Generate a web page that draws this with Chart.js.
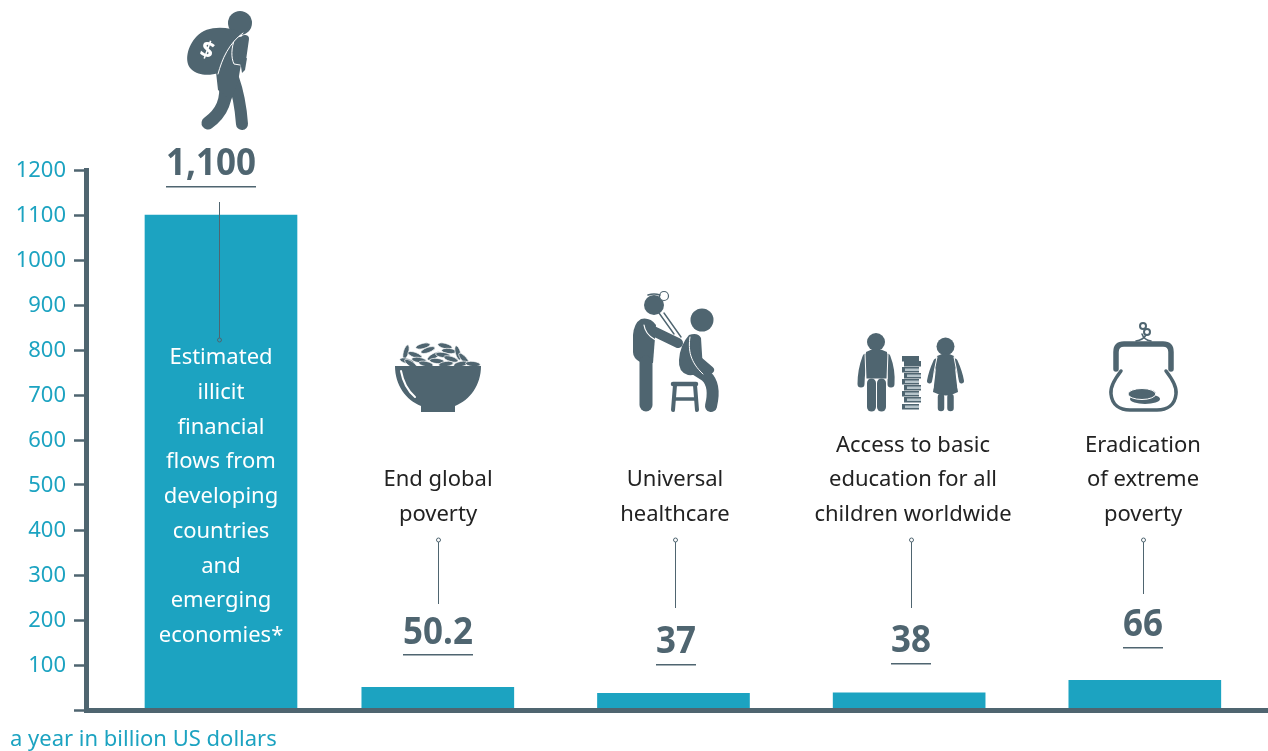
<!DOCTYPE html>
<html>
<head>
<meta charset="utf-8">
<title>Illicit financial flows</title>
<script src="https://cdn.jsdelivr.net/npm/chart.js@4"></script>
<style>
  html, body { margin: 0; padding: 0; background: #fff; }
  canvas { display: block; }
</style>
</head>
<body>
<canvas id="chart" width="1268" height="751"></canvas>
<script>
// billion US dollars a year
const values = [1100, 50.2, 37, 38, 66];
const valueLabels = ['1,100', '50.2', '37', '38', '66'];
const captions = [
    ['Estimated', 'illicit', 'financial', 'flows from', 'developing', 'countries', 'and', 'emerging', 'economies*'],
    ['End global', 'poverty'],
    ['Universal', 'healthcare'],
    ['Access to basic', 'education for all', 'children worldwide'],
    ['Eradication', 'of extreme', 'poverty']
];
const unitLabel = 'a year in billion US dollars';

// bars are not evenly spaced, so the x axis is linear in column units
const columns = [0, 0.92, 1.92, 2.92, 3.92];

const DARK = '#4f6570';
const TEAL = '#1ca3c1';
const BODY_FONT = '"Noto Sans", sans-serif';

// per-bar annotation layout: value text, underline, leader line, caption
const annotations = [
    { numX: 211, numY: 175, ruleY: 186, ruleW: 90, leadX: 219, leadTop: 202, leadEnd: 340, dotAtEnd: true, capX: 221, capLast: 642, capColor: '#fff' },
    { numX: 438, numY: 644, ruleY: 654, ruleW: 70, leadX: 438, leadTop: 540, leadEnd: 604, capX: 438, capLast: 521, capColor: '#222' },
    { numX: 676, numY: 653, ruleY: 664, ruleW: 40, leadX: 675, leadTop: 540, leadEnd: 608, capX: 675, capLast: 521, capColor: '#222' },
    { numX: 911, numY: 652, ruleY: 663, ruleW: 40, leadX: 911, leadTop: 540, leadEnd: 608, capX: 913, capLast: 521, capColor: '#222' },
    { numX: 1143, numY: 636, ruleY: 647, ruleW: 40, leadX: 1143, leadTop: 540, leadEnd: 594, capX: 1143, capLast: 521, capColor: '#222' }
];

function strokePath(ctx, d, width, color) {
    ctx.lineWidth = width;
    ctx.strokeStyle = color || DARK;
    ctx.lineCap = 'round';
    ctx.lineJoin = 'round';
    ctx.stroke(new Path2D(d));
}
function fillPath(ctx, d, color) {
    ctx.fillStyle = color || DARK;
    ctx.fill(new Path2D(d));
}
function disc(ctx, x, y, r, color) {
    ctx.fillStyle = color || DARK;
    ctx.beginPath();
    ctx.arc(x, y, r, 0, Math.PI * 2);
    ctx.fill();
}

function drawCarrier(ctx) {
    disc(ctx, 240, 23, 12);
    // legs and torso
    strokePath(ctx, 'M225 80 C228 100 222 113 208 123', 13);
    strokePath(ctx, 'M233 78 C239 95 241 110 242 124', 12);
    fillPath(ctx, 'M216 72 L232 38 L246 36 L240 70 L238 82 L231 100 L218 90 Z');
    // forearm with a pale outline and the hanging hand
    strokePath(ctx, 'M245 39 L242 60', 8);
    fillPath(ctx, 'M240 60 L247 58 L245 70 L242 73 Z');
    strokePath(ctx, 'M235 38 C231 48 231 58 234 64 L240 65', 1, '#fff');
    // sack
    fillPath(ctx, 'M243 33 C226 25 206 26 197 36 C187 46 184 62 191 69 C199 77 212 75 218 73 C221 60 228 44 243 33 Z');
    strokePath(ctx, 'M243 33 C229 43 222 59 218 74', 1, '#fff');
    ctx.save();
    ctx.translate(207, 51);
    ctx.rotate(0.35);
    ctx.fillStyle = '#fff';
    ctx.font = 'bold 23px ' + BODY_FONT;
    ctx.textAlign = 'center';
    ctx.textBaseline = 'middle';
    ctx.fillText('$', 0, 0);
    ctx.restore();
}

function drawBowl(ctx) {
    const grains = [[423, 346, -0.25], [445, 346, 0.25], [406, 352, -1.3], [428, 350, -0.35], [449, 351, 0.1],
        [458, 353, 1.3], [415, 355, 0.35], [434, 356, -0.5], [443, 355, 0.15], [464, 359, 0.85], [407, 361, 0.25],
        [419, 360, 0.15], [437, 361, 0.1], [451, 359, 0.3], [411, 364, 0.6], [426, 364, 0.2], [446, 364, -0.15],
        [461, 364, -0.2], [473, 364, 0.1]];
    grains.forEach(g => {
        ctx.fillStyle = DARK;
        ctx.beginPath();
        ctx.ellipse(g[0], g[1], 7.5, 2.6, g[2], 0, Math.PI * 2);
        ctx.fill();
        ctx.strokeStyle = '#fff';
        ctx.lineWidth = 0.7;
        ctx.stroke();
    });
    fillPath(ctx, 'M395 366 L481 366 C481 385 470 400 455 406 L455 412 L421 412 L421 406 C406 400 395 385 395 366 Z');
    strokePath(ctx, 'M401 371 C403 382 408 391 415 397', 2, '#fff');
}

function drawDoctor(ctx) {
    disc(ctx, 654, 305, 10);
    ctx.fillStyle = '#fff';
    ctx.strokeStyle = DARK;
    ctx.lineWidth = 1.2;
    ctx.beginPath();
    ctx.arc(664, 296, 4.5, 0, Math.PI * 2);
    ctx.fill();
    ctx.stroke();
    strokePath(ctx, 'M648 295 Q654 293 660 295', 1.5);
    // doctor: torso, leg, arm
    fillPath(ctx, 'M641 319 Q650 317 656 325 L653 363 L640 362 Q633 358 633 352 L633 335 Q634 323 641 319 Z');
    strokePath(ctx, 'M646 362 L646 405', 13);
    strokePath(ctx, 'M647 328 L678 343', 10);
    strokePath(ctx, 'M644 325 C645 332 649 336 654 339 L675 350', 1.2, '#fff');
    // stethoscope
    strokePath(ctx, 'M659 313 L674 334', 1.4);
    strokePath(ctx, 'M664 313 L681 337', 1.4);
    // patient
    disc(ctx, 702, 320, 11.5);
    fillPath(ctx, 'M689 335 Q698 332 701 338 L703 370 Q697 376 688 375 Q678 372 679 360 Q680 345 689 335 Z');
    strokePath(ctx, 'M695 369 L706 376 Q716 385 711 406', 12);
    strokePath(ctx, 'M695 340 L696 358 L710 370', 8);
    strokePath(ctx, 'M690 337 C688 350 690 362 703 374', 1, '#fff');
    // stool
    strokePath(ctx, 'M673 384 H696', 4.5);
    strokePath(ctx, 'M675 385 L673 410', 4);
    strokePath(ctx, 'M695 385 L697 410', 4);
    strokePath(ctx, 'M675 399 H695', 3.5);
}

function drawChildren(ctx) {
    // boy with backpack
    disc(ctx, 876, 342, 9);
    strokePath(ctx, 'M866 357 Q861 370 861 384', 7);
    strokePath(ctx, 'M887 357 Q892 370 891 384', 7);
    fillPath(ctx, 'M866 352 Q876 346 887 352 L887 379 H866 Z');
    strokePath(ctx, 'M865 353 L866 379 H887 L888 353', 1, '#fff');
    strokePath(ctx, 'M871.5 383 L871.5 407', 9);
    strokePath(ctx, 'M881.5 383 L881.5 407', 9);
    // book stack, dark hardbacks on top and pale page blocks below
    const bookRows = [356, 361, 367, 373, 379, 385, 391, 397, 404];
    bookRows.forEach((y, i) => {
        const off = i % 2 ? 2 : 0;
        ctx.fillStyle = DARK;
        ctx.fillRect(902 + off, y, 17, 5.5);
        if (i > 1) {
            ctx.fillStyle = '#b6c4ca';
            ctx.fillRect(905 + off, y + 1.5, 14, 2.5);
        }
    });
    // girl
    disc(ctx, 945.5, 346.5, 9);
    strokePath(ctx, 'M936 361 Q931 372 929.5 381', 5);
    strokePath(ctx, 'M955 361 Q960 372 961.5 381', 5);
    fillPath(ctx, 'M937 356 Q946 351 954 356 Q956 380 958 392 Q946 399 933 392 Q935 380 937 356 Z');
    strokePath(ctx, 'M937 357 Q933 372 933 388', 1, '#fff');
    strokePath(ctx, 'M954 357 Q958 372 958 388', 1, '#fff');
    strokePath(ctx, 'M941 397 L941 408', 6.5);
    strokePath(ctx, 'M950.5 397 L950.5 408', 6.5);
}

function drawPurse(ctx) {
    strokePath(ctx, 'M1121 371 C1114 380 1110 388 1111 394 C1112 405 1120 410 1130 410 H1157 C1167 410 1175 405 1176 394 C1177 388 1173 380 1166 371', 3.5);
    strokePath(ctx, 'M1116 369 L1116 352 Q1116 344 1124 344 H1163 Q1171 344 1171 352 L1171 369', 5.5);
    strokePath(ctx, 'M1120.5 364 L1120.5 354 Q1121 350 1126 350 H1161 Q1166 350 1166.5 354 L1166.5 364', 1, '#fff');
    strokePath(ctx, 'M1136 341 Q1143 340 1146 335', 1.6);
    strokePath(ctx, 'M1151 341 Q1144 340 1142 334', 1.6);
    ctx.strokeStyle = DARK;
    ctx.lineWidth = 2;
    ctx.beginPath();
    ctx.arc(1143, 326, 3, 0, Math.PI * 2);
    ctx.stroke();
    ctx.beginPath();
    ctx.arc(1147, 332, 3, 0, Math.PI * 2);
    ctx.stroke();
    // two coins
    ctx.fillStyle = DARK;
    ctx.beginPath();
    ctx.ellipse(1145, 399, 15, 5, 0, 0, Math.PI * 2);
    ctx.fill();
    ctx.strokeStyle = '#fff';
    ctx.lineWidth = 1;
    ctx.beginPath();
    ctx.ellipse(1142, 394, 14, 5.5, 0, 0, Math.PI * 2);
    ctx.fill();
    ctx.stroke();
}

// draws pictograms, value labels, captions and leader lines on top of the bars
const annotationPlugin = {
    id: 'annotations',
    afterDatasetsDraw(chart) {
        const ctx = chart.ctx;
        ctx.save();
        annotations.forEach((a, i) => {
            // leader line with its small ring
            const ringY = a.dotAtEnd ? a.leadEnd : a.leadTop;
            ctx.strokeStyle = DARK;
            ctx.lineWidth = 1;
            ctx.beginPath();
            ctx.moveTo(a.leadX + 0.5, a.leadTop);
            ctx.lineTo(a.leadX + 0.5, a.leadEnd);
            ctx.stroke();
            ctx.fillStyle = a.dotAtEnd ? TEAL : '#fff';
            ctx.beginPath();
            ctx.arc(a.leadX + 0.5, ringY, 2, 0, Math.PI * 2);
            ctx.fill();
            ctx.stroke();

            ctx.textAlign = 'center';
            ctx.textBaseline = 'alphabetic';
            ctx.fillStyle = DARK;
            // value text runs tall and narrow
            ctx.save();
            ctx.translate(a.numX, a.numY);
            ctx.scale(0.92, 1);
            ctx.font = 'bold 38px ' + BODY_FONT;
            ctx.fillText(valueLabels[i], 0, 0);
            ctx.restore();
            ctx.fillRect(a.numX - a.ruleW / 2, a.ruleY, a.ruleW, 1.5);

            ctx.font = '22px ' + BODY_FONT;
            ctx.fillStyle = a.capColor;
            const lines = captions[i];
            lines.forEach((line, n) => {
                ctx.fillText(line, a.capX, a.capLast - (lines.length - 1 - n) * 34.75);
            });
        });
        drawCarrier(ctx);
        drawBowl(ctx);
        drawDoctor(ctx);
        drawChildren(ctx);
        drawPurse(ctx);

        ctx.textAlign = 'left';
        ctx.fillStyle = TEAL;
        ctx.font = '22px ' + BODY_FONT;
        ctx.fillText(unitLabel, 10, 746);
        ctx.restore();
    }
};

new Chart(document.getElementById('chart'), {
    type: 'bar',
    data: {
        datasets: [{
            data: values.map((v, i) => ({ x: columns[i], y: v })),
            backgroundColor: TEAL,
            barThickness: 152,
            borderWidth: 0
        }]
    },
    options: {
        responsive: false,
        animation: false,
        layout: { padding: { top: 170, bottom: 41, left: 0, right: 0 } },
        plugins: { legend: { display: false }, tooltip: { enabled: false } },
        scales: {
            x: {
                type: 'linear',
                offset: false,
                min: -0.5728,
                max: 4.4427,
                grid: { display: false, offset: false },
                ticks: { display: false },
                border: { display: true, color: DARK, width: 5, z: 1 },
                afterFit(scale) { scale.height = 0; }
            },
            y: {
                min: 0,
                max: 1200,
                grid: { drawOnChartArea: false, drawTicks: true, tickLength: 12, tickWidth: 2.5, tickColor: DARK },
                border: { display: true, color: DARK, width: 5, z: 1 },
                ticks: {
                    stepSize: 100,
                    autoSkip: false,
                    padding: 8,
                    labelOffset: 1,
                    color: TEAL,
                    font: { family: BODY_FONT, size: 22 },
                    callback: v => (v === 0 ? '' : String(v))
                },
                afterFit(scale) { scale.width = 86; }
            }
        }
    },
    plugins: [annotationPlugin]
});
</script>
</body>
</html>
